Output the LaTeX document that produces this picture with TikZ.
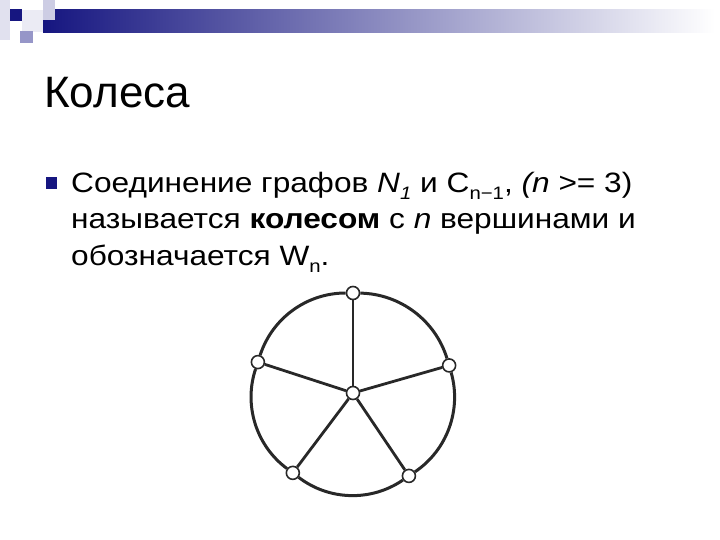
\documentclass[tikz,border=0pt]{standalone}
\usepackage{fontspec}
\setmainfont{Liberation Sans}
\newfontfamily\bodyfont[FakeStretch=1.13]{Liberation Sans}
\usetikzlibrary{calc}

\definecolor{navy}{RGB}{22,22,128}
\definecolor{lavender}{RGB}{205,205,228}
\definecolor{midblue}{RGB}{150,150,200}
\definecolor{inkgray}{RGB}{40,40,40}

\newcommand{\lowsub}[1]{\raisebox{-0.28em}{\fontsize{18}{18}\selectfont #1}}

\tikzset{
    vertex/.style={circle, draw=inkgray, fill=white, line width=1.6pt, minimum size=13pt, inner sep=0pt},
    spoke/.style={draw=inkgray, line width=2.8pt},
    rim/.style={draw=inkgray, line width=3pt, bend right=36, looseness=0.94}
}

\begin{document}
\begin{tikzpicture}[x=1pt, y=-1pt]
            \useasboundingbox (0,0) rectangle (720,540);

            % Header
            \fill[lavender!60] (0,0) rectangle (10,40);
            \fill[lavender!40] (22,10) rectangle (43,32);
            \shade[left color=navy, right color=white] (43,10) rectangle (715,33);
            \fill[lavender] (43,0) rectangle (55,20);
            \fill[navy] (10,9) rectangle (22,21);
            \fill[midblue] (20,31) rectangle (33,43);

            % Title
            \node[anchor=base west, inner sep=0pt, font=\fontsize{44}{53}\selectfont] (title) at (44,108) {Колеса};

            % Bullet
            \fill[navy] (46,177) rectangle (57,189);
            \node[anchor=base west, inner sep=0pt, align=left, font=\bodyfont\fontsize{28}{36.5}\selectfont] (body) at (71,265)
                {Соединение графов \textit{N\lowsub{1}} и C\lowsub{n−1}, \textit{(n} >= 3)\\
                 называется \textbf{колесом} с \textit{n} вершинами и\\
                 обозначается W\lowsub{n}.};

            % Wheel
            \coordinate (hub) at (353,393);
            \node[vertex] (c) at (hub) {};
            \foreach \a/\name in {90/v1, 162/v2, 233/v3, 304/v4, 16/v5}
                \node[vertex] (\name) at ($(hub)+(\a:100pt)$) {};

            % Spokes
            \foreach \name in {v1,v2,v3,v4,v5}
                \draw[spoke] (c) -- (\name);

            % Rim
            \draw[rim] (v1) to (v2);
            \draw[rim] (v2) to (v3);
            \draw[rim] (v3) to (v4);
            \draw[rim] (v4) to (v5);
            \draw[rim] (v5) to (v1);
\end{tikzpicture}
\end{document}
